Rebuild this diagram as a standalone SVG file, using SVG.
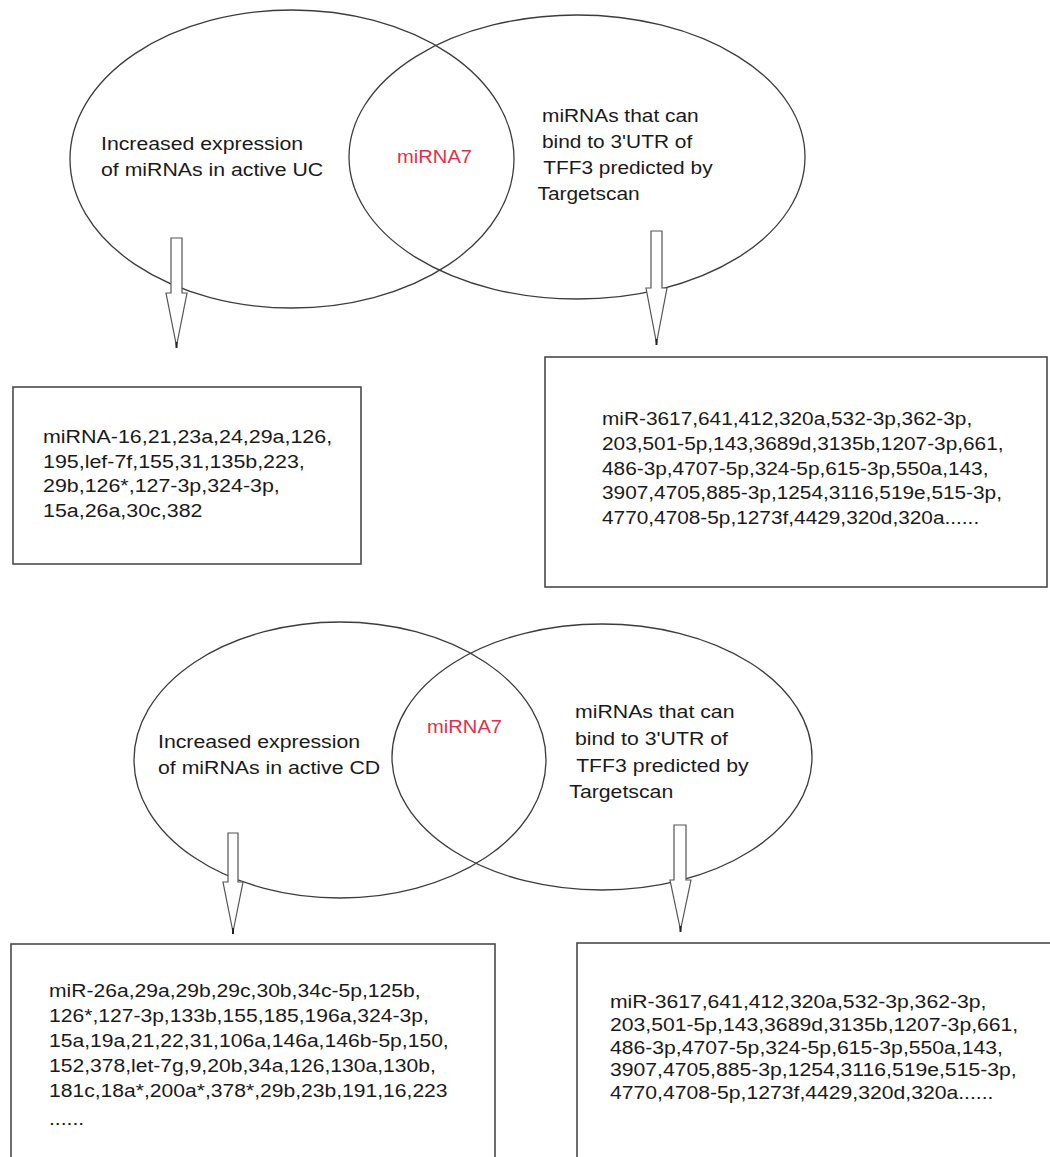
<svg xmlns="http://www.w3.org/2000/svg" width="1050" height="1157" viewBox="0 0 1050 1157">
<style>
.ell{fill:none;stroke:#3c3c3c;stroke-width:1.3}
.box{fill:#fff;stroke:#4a4a4a;stroke-width:1.6}
.arr{fill:#fff;stroke:#555;stroke-width:1.2;stroke-linejoin:miter}
.tip{stroke:#222;stroke-width:2}
.t{font-family:"Liberation Sans",Arial,sans-serif;fill:#1a1a1a}
.red{font-family:"Liberation Sans",Arial,sans-serif;fill:#e0314b}
</style>
<rect width="1050" height="1157" fill="#fff"/>
<g id="venn-uc">
<g id="uc-left"><ellipse class="ell" cx="292" cy="159" rx="222" ry="149"/>
<text class="t" font-size="18.5" transform="translate(101,150) scale(1.15,1)"><tspan x="0" y="0">Increased expression</tspan><tspan x="0" y="26">of miRNAs in active UC</tspan></text></g>
<g id="uc-right"><ellipse class="ell" cx="577" cy="157" rx="228" ry="142"/>
<text class="t" font-size="18.5" transform="translate(542,122) scale(1.13,1)"><tspan x="0" y="0">miRNAs that can</tspan><tspan x="0" y="26">bind to 3'UTR of</tspan><tspan x="1" y="52">TFF3 predicted by</tspan><tspan x="-4" y="78">Targetscan</tspan></text></g>
<g id="uc-overlap"><text class="red" font-size="18" transform="translate(397,163) scale(1.12,1)">miRNA7</text></g>
</g>
<g id="venn-cd">
<g id="cd-left"><ellipse class="ell" cx="340" cy="760" rx="206" ry="138"/>
<text class="t" font-size="18.5" transform="translate(158,748) scale(1.15,1)"><tspan x="0" y="0">Increased expression</tspan><tspan x="0" y="26">of miRNAs in active CD</tspan></text></g>
<g id="cd-right"><ellipse class="ell" cx="602" cy="757" rx="210" ry="133"/>
<text class="t" font-size="18.5" transform="translate(575,718) scale(1.15,1)"><tspan x="0" y="0">miRNAs that can</tspan><tspan x="0" y="27">bind to 3'UTR of</tspan><tspan x="1" y="54">TFF3 predicted by</tspan><tspan x="-5" y="80">Targetscan</tspan></text></g>
<g id="cd-overlap"><text class="red" font-size="18" transform="translate(427,733) scale(1.12,1)">miRNA7</text></g>
</g>
<g id="connectors">
<polygon class="arr" points="171,238 182,238 182,293 187,293 176.5,346 166,293 171,293"/>
<line class="tip" x1="176.5" y1="342" x2="176.5" y2="348"/>
<polygon class="arr" points="651,231 662,231 662,288 667,288 656.5,343 646,288 651,288"/>
<line class="tip" x1="656.5" y1="339" x2="656.5" y2="345"/>
<polygon class="arr" points="228,833 238,833 238,882 243,882 233,932 223,882 228,882"/>
<line class="tip" x1="233" y1="928" x2="233" y2="934"/>
<polygon class="arr" points="674,825 686,825 686,880 691,880 680.5,930 670,880 674,880"/>
<line class="tip" x1="680.5" y1="926" x2="680.5" y2="932"/>
</g>
<g id="box-uc">
<rect class="box" x="13" y="387" width="348" height="177"/>
<text class="t" font-size="18" transform="translate(43,443) scale(1.19,1)"><tspan x="0" y="0">miRNA-16,21,23a,24,29a,126,</tspan><tspan x="0" y="24.7">195,lef-7f,155,31,135b,223,</tspan><tspan x="0" y="49.4">29b,126*,127-3p,324-3p,</tspan><tspan x="0" y="74.1">15a,26a,30c,382</tspan></text>
</g>
<g id="box-tff3-uc">
<rect class="box" x="545" y="357" width="502" height="230"/>
<text class="t" font-size="17.5" transform="translate(602,425) scale(1.19,1)"><tspan x="0" y="0">miR-3617,641,412,320a,532-3p,362-3p,</tspan><tspan x="0" y="24.8">203,501-5p,143,3689d,3135b,1207-3p,661,</tspan><tspan x="0" y="49.6">486-3p,4707-5p,324-5p,615-3p,550a,143,</tspan><tspan x="0" y="74.4">3907,4705,885-3p,1254,3116,519e,515-3p,</tspan><tspan x="0" y="99.2">4770,4708-5p,1273f,4429,320d,320a......</tspan></text>
</g>
<g id="box-cd">
<rect class="box" x="11" y="944" width="484" height="230"/>
<text class="t" font-size="18.5" transform="translate(49,997) scale(1.14,1)"><tspan x="0" y="0">miR-26a,29a,29b,29c,30b,34c-5p,125b,</tspan><tspan x="0" y="25">126*,127-3p,133b,155,185,196a,324-3p,</tspan><tspan x="0" y="50">15a,19a,21,22,31,106a,146a,146b-5p,150,</tspan><tspan x="0" y="75">152,378,let-7g,9,20b,34a,126,130a,130b,</tspan><tspan x="0" y="100">181c,18a*,200a*,378*,29b,23b,191,16,223</tspan><tspan x="0" y="128">......</tspan></text>
</g>
<g id="box-tff3-cd">
<rect class="box" x="577" y="943" width="480" height="230"/>
<text class="t" font-size="17.5" transform="translate(610,1008) scale(1.21,1)"><tspan x="0" y="0">miR-3617,641,412,320a,532-3p,362-3p,</tspan><tspan x="0" y="22.8">203,501-5p,143,3689d,3135b,1207-3p,661,</tspan><tspan x="0" y="45.6">486-3p,4707-5p,324-5p,615-3p,550a,143,</tspan><tspan x="0" y="68.4">3907,4705,885-3p,1254,3116,519e,515-3p,</tspan><tspan x="0" y="91.2">4770,4708-5p,1273f,4429,320d,320a......</tspan></text>
</g>
</svg>
